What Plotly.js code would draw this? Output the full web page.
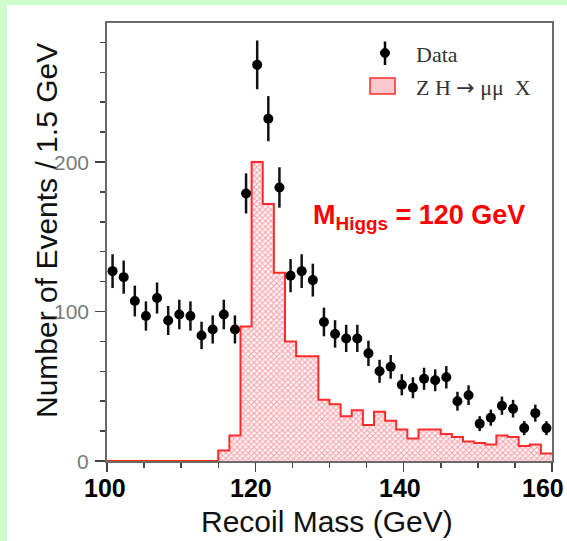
<!DOCTYPE html>
<html>
<head>
<meta charset="utf-8">
<script src="https://cdn.plot.ly/plotly-3.0.1.min.js"></script>
<style>
  html, body { margin: 0; padding: 0; background: #ccffcc; width: 567px; height: 541px; overflow: hidden; }
  #plot { position: absolute; left: 7px; top: 5px; width: 560px; height: 536px; }
</style>
</head>
<body>
<div id="plot"></div>
<script>
// Bin centres of the recoil-mass histogram (GeV), 1.5 GeV bins from 100 to 160
const binCenters = [100.75, 102.25, 103.75, 105.25, 106.75, 108.25, 109.75, 111.25, 112.75, 114.25,
                    115.75, 117.25, 118.75, 120.25, 121.75, 123.25, 124.75, 126.25, 127.75, 129.25,
                    130.75, 132.25, 133.75, 135.25, 136.75, 138.25, 139.75, 141.25, 142.75, 144.25,
                    145.75, 147.25, 148.75, 150.25, 151.75, 153.25, 154.75, 156.25, 157.75, 159.25];
const binUpperEdge = 160;
// Data points (events per bin) and their errors
const dataCounts = [127, 123, 107, 97, 109, 94, 98, 97, 84, 88,
                    98, 88, 179, 265, 229, 183, 124, 127, 121, 93,
                    85, 82, 82, 72, 60, 63, 51, 49, 55, 54,
                    56, 40, 44, 25, 29, 37, 35, 22, 32, 22];
const dataErrors = [11.3, 11.1, 10.3, 9.8, 10.4, 9.7, 9.9, 9.8, 9.2, 9.4,
                    9.9, 9.4, 13.4, 16.3, 15.1, 13.5, 11.1, 11.3, 11.0, 9.6,
                    9.2, 9.1, 9.1, 8.5, 7.7, 7.9, 7.1, 7.0, 7.4, 7.3,
                    7.5, 6.3, 6.6, 5.0, 5.4, 6.1, 5.9, 4.7, 5.7, 4.7];
// ZH -> mu mu X signal histogram
const signalCounts = [0, 0, 0, 0, 0, 0, 0, 0, 0, 0,
                      7, 17, 90, 200, 172, 126, 80, 70, 70, 41,
                      38, 30, 34, 24, 33, 27, 21, 15, 21, 21,
                      18, 16, 13, 12, 11, 17, 16, 10, 11, 5];
const halfBin = (binCenters[1] - binCenters[0]) / 2;
const xTickVals = [100, 120, 140, 160];
const xTickText = ['100', '120', '140', '160'];
const yTickVals = [0, 100, 200];
const yTickText = ['0', '100', '200'];

// step histogram arrays built from the bins
const histX = binCenters.map(c => c - halfBin).concat([binUpperEdge]);
const histY = signalCounts.concat([signalCounts[signalCounts.length - 1]]);

// page-pixel -> paper helpers (plot area on page: x 107..552, y 23..461)
const PL = 107, PR = 552, PT = 23, PB = 461;
const px = p => (p - PL) / (PR - PL);
const py = p => (PB - p) / (PB - PT);

const red = '#ff2b2b';
const sans = 'Liberation Sans, Arial, sans-serif';
const serif = 'Liberation Serif, Times New Roman, serif';

const traces = [
  {
    type: 'scatter', mode: 'lines',
    x: histX, y: histY,
    line: { shape: 'hv', color: red, width: 2 },
    fill: 'tozeroy',
    fillcolor: '#fbd3d6',
    fillpattern: { shape: 'x', size: 4, solidity: 0.45, fgcolor: '#f4a3ad', bgcolor: '#fff2f3' },
    cliponaxis: false,
    hoverinfo: 'x+y', showlegend: false
  },
  {
    type: 'scatter', mode: 'markers',
    x: binCenters, y: dataCounts,
    marker: { color: '#000', size: 10 },
    error_y: { type: 'data', array: dataErrors, visible: true, color: '#111', thickness: 2.5, width: 0 },
    showlegend: false
  }
];

// x tick labels as annotations (the reference's labels sit slightly left of their ticks)
const xLabelCentersPx = [105, 251, 399.5, 542.5];
const xTickAnnotations = xTickText.map((t, i) => ({
  xref: 'paper', yref: 'paper', x: px(xLabelCentersPx[i]), y: py(488),
  xanchor: 'center', yanchor: 'middle', showarrow: false,
  text: t, font: { family: sans, size: 25, color: '#000', weight: 'bold' }
}));
// y tick labels as annotations, right-aligned a little left of the ticks
const yTickAnnotations = yTickText.map((t, i) => ({
  xref: 'paper', yref: 'y', x: px(91), y: yTickVals[i],
  xanchor: 'right', yanchor: 'middle', showarrow: false,
  text: t, font: { family: sans, size: 21, color: '#7a7a7a' }
}));

const layout = {
  width: 560, height: 536,
  margin: { l: PL - 7, r: 560 - (PR - 7), t: PT - 5, b: 536 - (PB - 5), pad: 0 },
  paper_bgcolor: '#ffffff', plot_bgcolor: '#ffffff',
  showlegend: false,
  xaxis: {
    range: [100, 160], showgrid: false, zeroline: false,
    tickvals: xTickVals, ticktext: xTickText, showticklabels: false,
    ticks: 'outside', ticklen: 9, tickwidth: 1.5, tickcolor: '#444',
    minor: { dtick: 5, tick0: 100, ticks: 'outside', ticklen: 5, tickwidth: 1.5, tickcolor: '#444', showgrid: false },
    showline: true, linecolor: '#6a6a6a', linewidth: 2, mirror: true,
    layer: 'below traces'
  },
  yaxis: {
    range: [0, 293], showgrid: false, zeroline: false,
    tickvals: yTickVals, ticktext: yTickText, showticklabels: false,
    ticks: 'outside', ticklen: 10, tickwidth: 1.5, tickcolor: '#444',
    minor: { dtick: 20, tick0: 0, ticks: 'outside', ticklen: 5, tickwidth: 1.5, tickcolor: '#444', showgrid: false },
    showline: true, linecolor: '#6a6a6a', linewidth: 2, mirror: true,
    layer: 'below traces'
  },
  shapes: [
    // legend: data marker with error bar
    { type: 'line', xref: 'paper', yref: 'paper', x0: px(385), x1: px(385), y0: py(41.5), y1: py(65),
      line: { color: '#000', width: 2.5 } },
    { type: 'circle', xref: 'paper', yref: 'paper', x0: px(380.5), x1: px(389.5), y0: py(48.5), y1: py(57.5),
      fillcolor: '#000', line: { color: '#000', width: 1 } },
    // legend: signal box
    { type: 'rect', xref: 'paper', yref: 'paper', x0: px(370), x1: px(395), y0: py(78), y1: py(94),
      fillcolor: '#f9c9ce', line: { color: red, width: 1.5 } }
  ],
  annotations: [
    { xref: 'paper', yref: 'paper', x: px(414), y: py(54), xanchor: 'left', yanchor: 'middle', showarrow: false,
      text: 'Data', font: { family: serif, size: 22, color: '#333' } },
    { xref: 'paper', yref: 'paper', x: px(414), y: py(87), xanchor: 'left', yanchor: 'middle', showarrow: false,
      text: 'Z H <span style="font-family:DejaVu Sans">\u2192</span> \u03bc\u03bc\u00a0\u00a0X',
      font: { family: serif, size: 22, color: '#333' } },
    { xref: 'paper', yref: 'paper', x: px(311), y: py(217), xanchor: 'left', yanchor: 'middle', showarrow: false,
      text: 'M<sub>Higgs</sub> = 120 GeV',
      font: { family: sans, size: 27, color: '#ff0000', weight: 'bold' } },
    { xref: 'paper', yref: 'paper', x: px(327), y: py(521), xanchor: 'center', yanchor: 'middle', showarrow: false,
      text: 'Recoil Mass (GeV)', font: { family: sans, size: 30, color: '#111' } },
    { xref: 'paper', yref: 'paper', x: px(46), y: py(231), xanchor: 'center', yanchor: 'middle', showarrow: false,
      textangle: -90,
      text: 'Number of Events / 1.5 GeV', font: { family: sans, size: 30, color: '#111' } }
  ].concat(xTickAnnotations, yTickAnnotations)
};

Plotly.newPlot('plot', traces, layout, { displayModeBar: false, staticPlot: true });
</script>
</body>
</html>
